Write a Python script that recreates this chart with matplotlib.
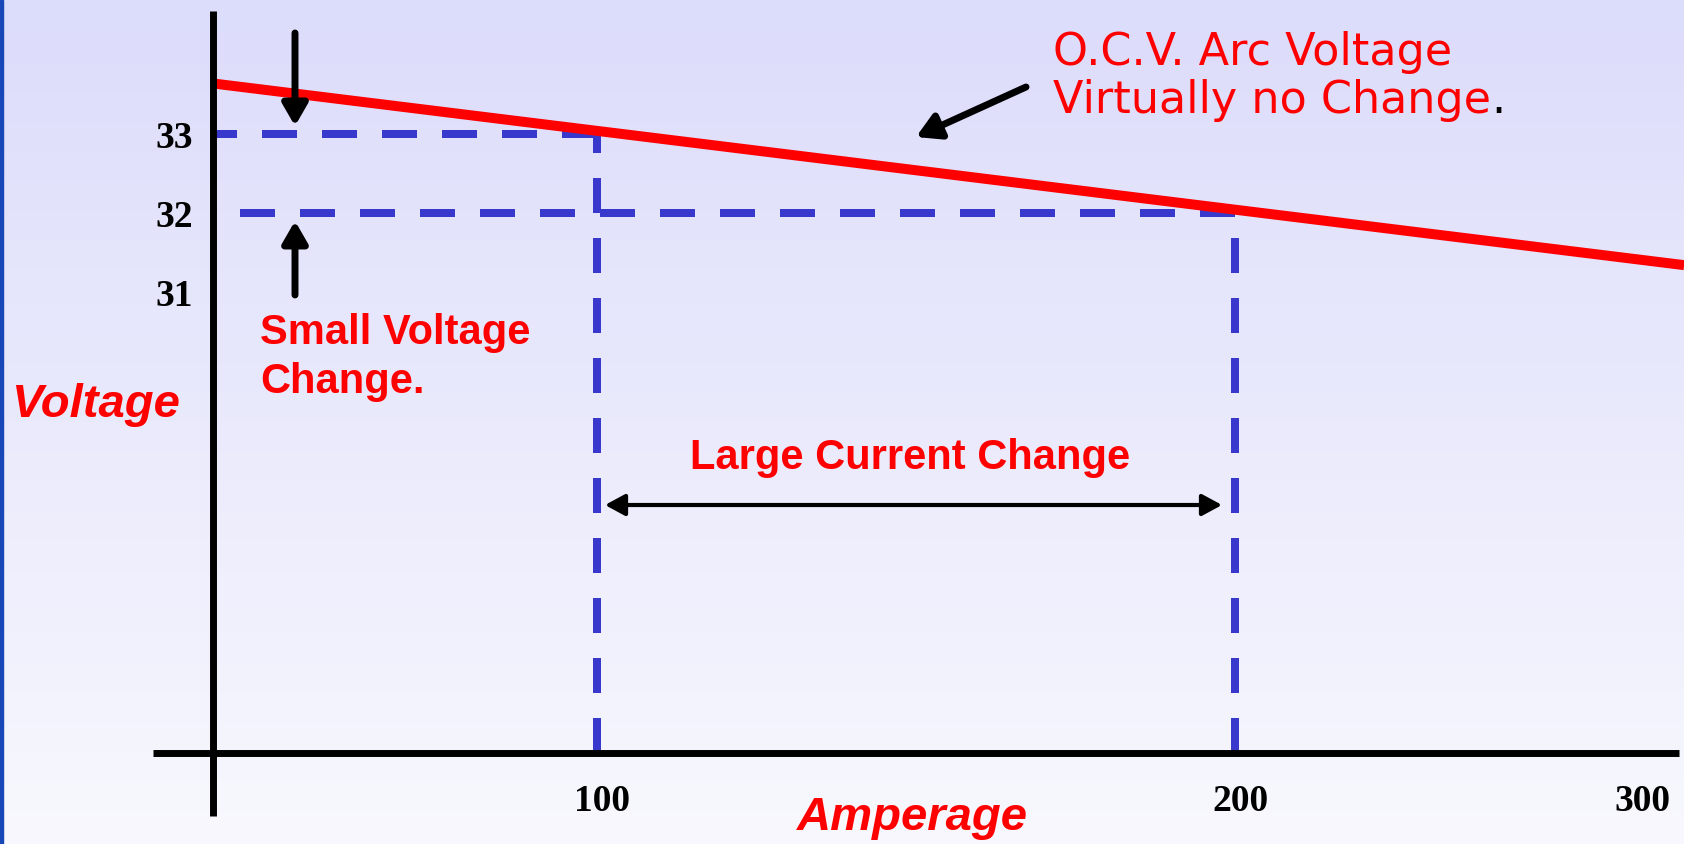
# ------------------ PACKAGES ------------------

import numpy as np
import matplotlib.pyplot as plt
from matplotlib.patches import Rectangle

# ------------------ DATA ------------------

# operating points: current (A) and arc voltage (V)
op_amps = [100, 200]
op_volts = [33, 32]

# drooping O.C.V. / arc voltage line, read at the two ends
ocv_amps = [39.8, 270.4]
ocv_volts = [33.64, 31.34]

volt_ticks = [33, 32, 31]
amp_ticks = [100, 200]
amp_tick_labels = ['100', '200', '300']

# ------------------ LAYOUT ------------------

W, H, DPI = 1684, 844, 100
PX_PER_AMP = 6.38
PX_PER_VOLT = 79.0

def amp_of(px):
    return 100 + (px - 597) / PX_PER_AMP

def volt_of(py):
    return 33 - (py - 134) / PX_PER_VOLT

AX_AMP = amp_of(213)       # where the vertical axis sits
AX_VOLT = volt_of(753)     # where the horizontal axis sits

RED = '#FF0000'
BLUE = '#3838CC'

fig = plt.figure(figsize=(W / DPI, H / DPI), dpi=DPI)
ax = fig.add_axes([0, 0, 1, 1])
xlim = (amp_of(0), amp_of(W))
ylim = (volt_of(H), volt_of(0))
ax.set_xlim(xlim)
ax.set_ylim(ylim)
ax.axis('off')

# background gradient (lavender at top to almost white at bottom)
top = np.array([220, 220, 251]) / 255
bottom = np.array([248, 248, 254]) / 255
t = np.linspace(0, 1, 256)[:, None]
grad = (top * (1 - t) + bottom * t)[:, None, :]
ax.imshow(grad, extent=(xlim[0], xlim[1], ylim[0], ylim[1]), aspect='auto', zorder=0)
fig.patches.append(Rectangle((0, 0), 2.5 / W, 1, transform=fig.transFigure,
                             color='#1848B8', zorder=5))

# axes lines
ax.plot([AX_AMP, AX_AMP], [volt_of(11), volt_of(816)], color='black', lw=5, solid_capstyle='butt', zorder=4)
ax.plot([amp_of(153), amp_of(1679)], [AX_VOLT, AX_VOLT], color='black', lw=5, solid_capstyle='butt', zorder=4)

# dashed guides to the operating points
lw_d = 5.76
dash = (35 * 0.72 / lw_d, 25 * 0.72 / lw_d)
ax.plot([op_amps[0], AX_AMP], [op_volts[0], op_volts[0]], color=BLUE, lw=lw_d, dashes=dash, zorder=2)
ax.plot([op_amps[1], amp_of(234)], [op_volts[1], op_volts[1]], color=BLUE, lw=lw_d, dashes=dash, zorder=2)
for a, v in zip(op_amps, op_volts):
    ax.plot([a, a], [AX_VOLT, v], color=BLUE, lw=lw_d, dashes=dash, zorder=2)

# the red characteristic
ax.plot(ocv_amps, ocv_volts, color=RED, lw=7.2, solid_capstyle='butt', zorder=3)

# black arrows
def arrow(tip, offset, lw, hl, hw, style='-|>'):
    ax.annotate('', xy=tip, xytext=offset, textcoords='offset pixels',
                arrowprops=dict(arrowstyle=f'{style},head_length={hl},head_width={hw}',
                                mutation_scale=1, lw=lw, color='black',
                                shrinkA=0, shrinkB=0), zorder=5)

arr_x = amp_of(295)
arrow((arr_x, volt_of(126)), (0, 93), 5, 13, 7.5)
arrow((arr_x, volt_of(221)), (0, -74), 5, 13, 7.5)
arrow((amp_of(916), volt_of(137)), (110, 50), 5, 14, 8)
ax.annotate('', xy=(amp_of(1222), volt_of(505)), xytext=(amp_of(605), volt_of(505)),
            arrowprops=dict(arrowstyle='<|-|>,head_length=12,head_width=6.5',
                            mutation_scale=1, lw=3, color='black', shrinkA=0, shrinkB=0))

# tick labels
tick_font = dict(family='Liberation Serif', weight='bold', size=27, color='black')
for v in volt_ticks:
    ax.annotate(str(v), xy=(AX_AMP, v), xytext=(-20, -14), textcoords='offset pixels',
                ha='right', va='baseline', **tick_font)
for a, lab in zip(amp_ticks, amp_tick_labels):
    ax.annotate(lab, xy=(a, AX_VOLT), xytext=(5, -58), textcoords='offset pixels',
                ha='center', va='baseline', **tick_font)
ax.text(amp_of(1670), volt_of(811), amp_tick_labels[-1], ha='right', va='baseline', **tick_font)

# labels
bold = dict(family='Liberation Sans', weight='bold', color=RED)
ax.text(amp_of(11), volt_of(417), 'Voltage', style='italic', size=34, **bold)
ax.text(amp_of(797), volt_of(830), 'Amperage', style='italic', size=34, **bold)
ax.text(amp_of(260), volt_of(344), 'Small Voltage', size=30, **bold)
ax.text(amp_of(260), volt_of(393), 'Change.', size=30, **bold)
ax.text(amp_of(690), volt_of(469), 'Large Current Change', size=30, **bold)

thin = dict(family='DejaVu Sans', size=32, color=RED)
ax.text(amp_of(1053), volt_of(65), 'O.C.V. Arc Voltage', **thin)
t2 = ax.text(amp_of(1053), volt_of(113), 'Virtually no Change', **thin)
ax.annotate('.', xy=(1, 0), xycoords=t2, ha='left', va='bottom',
            family='DejaVu Sans', size=32, color='black')

fig.savefig('out.png', dpi=DPI)
